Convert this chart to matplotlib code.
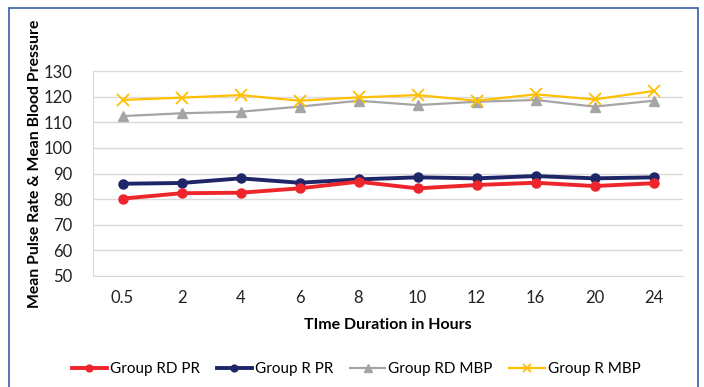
import matplotlib
matplotlib.use("Agg")
import matplotlib.pyplot as plt
from matplotlib.patches import Rectangle

hours = ["0.5", "2", "4", "6", "8", "10", "12", "16", "20", "24"]
rd_pr = [80.2, 82.3, 82.5, 84.2, 86.8, 84.2, 85.5, 86.4, 85.1, 86.2]
r_pr = [86.0, 86.3, 88.1, 86.4, 87.7, 88.5, 88.1, 89.0, 88.1, 88.5]
rd_mbp = [112.4, 113.5, 114.1, 116.1, 118.4, 116.7, 118.0, 118.7, 116.1, 118.4]
r_mbp = [118.7, 119.6, 120.6, 118.4, 119.7, 120.6, 118.4, 120.9, 118.9, 122.2]
series_names = ["Group RD PR", "Group R PR", "Group RD MBP", "Group R MBP"]
y_ticks = [50, 60, 70, 80, 90, 100, 110, 120, 130]

plt.rcParams['font.family'] = ['Lato', 'DejaVu Sans']

fig = plt.figure(figsize=(7.04, 3.87), dpi=100)
W, H = 704, 387
ax = fig.add_axes([93 / W, 1 - 276 / H, (683 - 93) / W, (276 - 71) / H])

x = list(range(len(hours)))
ax.plot(x, rd_pr, color='#EE252B', lw=2.8, marker='o', ms=6.5, label=series_names[0], zorder=4)
ax.plot(x, r_pr, color='#1E2568', lw=2.8, marker='o', ms=6.5, label=series_names[1], zorder=3)
ax.plot(x, rd_mbp, color='#A5A5A5', lw=1.6, marker='^', ms=7.5, label=series_names[2], zorder=3)
ax.plot(x, r_mbp, color='#FFC000', lw=1.6, marker='x', ms=8, mew=1.3, label=series_names[3], zorder=4)

ax.set_xlim(-0.5, len(hours) - 0.5)
ax.set_ylim(50, 130)
ax.set_yticks(y_ticks)
ax.set_xticks(x)
ax.set_xticklabels(hours)
ax.yaxis.grid(True, color='#D9D9D9', lw=1.0)
ax.set_axisbelow(True)
for s in ['top', 'right']:
    ax.spines[s].set_visible(False)
ax.spines['left'].set_color('#D9D9D9')
ax.spines['bottom'].set_color('#D9D9D9')
ax.tick_params(length=0, labelsize=12, colors='#222222', pad=10)
ax.tick_params(axis='y', pad=15)

ax.set_xlabel("TIme Duration in Hours", fontsize=11.5, fontweight='bold', labelpad=9)
ax.set_ylabel("Mean Pulse Rate & Mean Blood Pressure", fontsize=11.3, fontweight='bold')
ax.yaxis.set_label_coords((42 - 93) / 590, (276 - 163.5) / 205)

fig.legend(loc='center', bbox_to_anchor=(356 / W, 1 - 369 / H), ncol=4, frameon=False,
           fontsize=11, handlelength=2.3, handletextpad=0.2, columnspacing=1.1,
           markerscale=0.75)

fig.patches.append(Rectangle((9 / W, -0.05), (698 - 9) / W, 1 - 8 / H + 0.05,
                             transform=fig.transFigure, fill=False,
                             edgecolor='#3B5BA5', lw=1.2))

fig.savefig("out.png", dpi=100, facecolor='white')
